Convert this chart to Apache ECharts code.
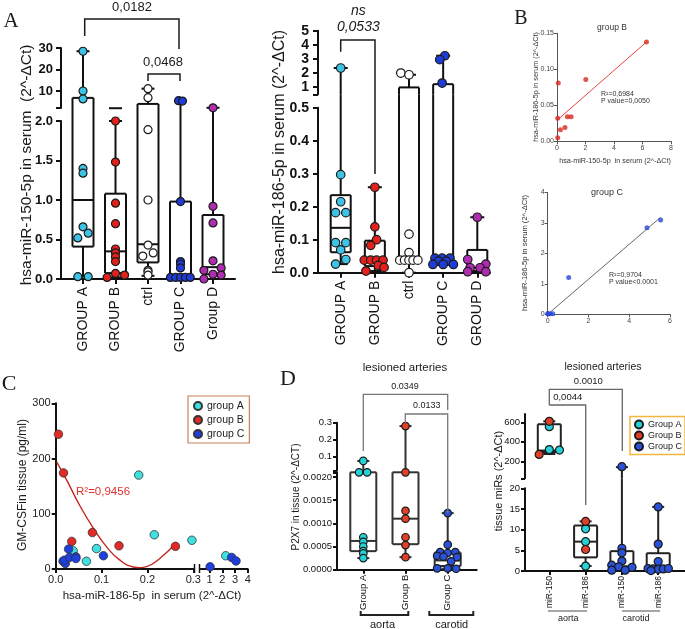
<!DOCTYPE html>
<html>
<head>
<meta charset="utf-8">
<script src="https://cdn.jsdelivr.net/npm/echarts@6/dist/echarts.min.js"></script>
<style>
  html, body { margin: 0; padding: 0; background: #fff; }
  #main { width: 685px; height: 629px; }
</style>
</head>
<body>
<div id="main"></div>
<script>
// ---------- data ----------
// A (left): hsa-miR-150-5p in serum, box = [min, Q1, median, Q3, max]
const a150Cats = ['GROUP A', 'GROUP B', 'ctrl', 'GROUP C', 'Group D'];
const a150Box = [
  [0.03, 0.41, 1.0, 6.8, 28.5],
  [0.02, 0.075, 0.35, 1.08, 2.0],
  [0.04, 0.21, 0.44, 4.0, 11.1],
  [0.01, 0.015, 0.02, 0.98, 5.4],
  [0.0, 0.06, 0.15, 0.81, 2.2]
];
const a150Vals = [
  [28.5, 10, 6.3, 1.40, 1.34, 0.66, 0.58, 0.52, 0.03, 0.03],
  [2.0, 1.48, 0.96, 0.70, 0.38, 0.33, 0.28, 0.22, 0.07, 0.05, 0.02],
  [11.1, 6.9, 1.89, 1.0, 0.43, 0.33, 0.29, 0.11, 0.09, 0.05],
  [5.5, 5.3, 0.98, 0.22, 0.19, 0.14, 0.02, 0.02, 0.02, 0.02, 0.02],
  [2.2, 0.92, 0.71, 0.23, 0.14, 0.11, 0.06, 0.05, 0.0]
];
const a150Jit = [
  [0, 0, 0, 0, 0, 0, 0.16, -0.16, -0.16, 0.16],
  [0, 0, 0, 0, 0, 0, 0, 0, 0, 0.28, -0.26],
  [0, 0, 0, 0, 0, 0.16, -0.16, 0, 0, 0],
  [-0.06, 0.06, 0, 0, 0, 0, -0.31, -0.15, 0, 0.15, 0.3],
  [0, 0, 0, 0, 0.25, -0.28, 0, 0.25, -0.28]
];
const a150LowTicks = [0, 0.5, 1, 1.5, 2];
const a150UpTicks = [10, 20, 30];

// A (right): hsa-miR-186-5p in serum
const a186Cats = ['GROUP A', 'GROUP B', 'ctrl', 'GROUP C', 'GROUP D'];
const a186Box = [
  [0.026, 0.062, 0.136, 0.235, 2.35],
  [0.005, 0.02, 0.035, 0.097, 0.259],
  [0.0, 0.03, 0.038, 0.97, 1.87],
  [0.025, 0.025, 0.035, 1.2, 3.22],
  [0.0, 0.005, 0.015, 0.069, 0.168]
];
const a186Vals = [
  [2.35, 0.297, 0.215, 0.182, 0.182, 0.091, 0.091, 0.069, 0.04, 0.026],
  [0.259, 0.139, 0.1, 0.083, 0.038, 0.038, 0.038, 0.038, 0.022, 0.016, 0.005],
  [1.99, 1.87, 0.117, 0.061, 0.038, 0.038, 0.038, 0.038, 0.038, 0.0],
  [3.22, 2.94, 1.28, 0.044, 0.044, 0.044, 0.035, 0.035, 0.025, 0.025, 0.025],
  [0.168, 0.04, 0.026, 0.015, 0.015, 0.003, 0.003]
];
const a186Jit = [
  [0, 0, 0, -0.15, 0.15, -0.15, 0.15, 0, 0.15, -0.15],
  [0, 0, 0.05, -0.12, -0.31, -0.12, 0.05, 0.24, 0.1, 0.27, -0.26],
  [-0.24, 0, 0, 0, -0.27, -0.13, 0, 0.12, 0.26, 0],
  [0.05, -0.1, -0.03, -0.24, -0.03, 0.2, -0.14, 0.09, -0.3, 0, 0.3],
  [0, -0.28, 0.25, -0.21, 0.08, -0.28, 0.25]
];
const a186LowTicks = [0, 0.1, 0.2, 0.3, 0.4, 0.5];
const a186UpTicks = [1, 2, 3, 4, 5];

// B: miR-186 vs miR-150, group B and group C
const bGroupBX = [0.09, 2.02, 6.28, 0.05, 0.73, 0.99, 0.56, 0.24, 0.05];
const bGroupBY = [0.081, 0.086, 0.138, 0.032, 0.034, 0.034, 0.019, 0.016, 0.005];
const bGroupBFit = [[0.05, 0.03], [6.28, 0.138]];
const bGroupCX = [1.03, 4.87, 5.54, 0.03, 0.11, 0.25, 0.0];
const bGroupCY = [1.21, 2.84, 3.09, 0.01, 0.02, 0.02, 0.03];
const bGroupCFit = [[0, 0], [5.54, 3.18]];

// C: GM-CSF in tissue vs miR-186 in serum
const cGroupAX = [0.181, 0.215, 0.297, 0.038, 0.089, 0.067, 2.27];
const cGroupAY = [170, 62, 52, 33, 37, 14, 24];
const cGroupBX = [0.006, 0.017, 0.035, 0.080, 0.138, 0.261];
const cGroupBY = [244, 174, 50, 66, 42, 41];
const cGroupCX = [0.016, 0.021, 0.019, 0.028, 0.030, 0.044, 0.044, 0.104, 1.04, 2.74, 3.08];
const cGroupCY = [14, 10, 16, 36, 21, 22, 19, 24, 4, 21, 14.5];
const cFitX = [0.002, 0.024, 0.053, 0.082, 0.111, 0.140, 0.169, 0.183, 0.198, 0.227, 0.263];
const cFitY = [194, 161, 114, 74, 40, 16, 3.6, 2.4, 4.2, 19, 48];

// D (left): P2X7 in tissue
const dP2x7Cats = ['Group A', 'Group B', 'Group C'];
const dP2x7Box = [
  [0.00025, 0.0004, 0.00062, 0.0021, 0.075],
  [0.00027, 0.00055, 0.0011, 0.0021, 0.28],
  [0.00002, 0.00008, 0.0002, 0.00037, 0.00122]
];
const dP2x7Vals = [
  [0.075, 0.0021, 0.0021, 0.0007, 0.0006, 0.0005, 0.0004, 0.00035, 0.00025],
  [0.28, 0.0021, 0.00127, 0.0011, 0.0007, 0.00053, 0.00027],
  [0.00122, 0.00054, 0.00038, 0.00038, 0.00036, 0.0003, 0.00028, 0.00027, 0.00018, 0.00003, 0.00003, 0.00002]
];
const dP2x7Jit = [
  [0, -0.1, 0.09, 0, 0, 0, 0, 0, 0],
  [0, 0, 0, 0, 0, 0, 0],
  [0, 0, -0.18, 0.18, 0, -0.25, -0.1, 0.22, 0.08, -0.25, 0, 0.2]
];
const dP2x7LowTicks = [0, 0.0005, 0.001, 0.0015, 0.002];
const dP2x7UpTicks = [0.1, 0.2, 0.3];

// D (right): tissue miRs; points are [category, value, jitter]
const dMirCats = ['miR-150', 'miR-186', 'miR-150', 'miR-186'];
const dMirBox = [
  [275, 295, 310, 580, 610],
  [1.2, 3.3, 7.1, 11, 12],
  [0.2, 0.9, 1.1, 4.8, 140],
  [0.1, 0.2, 0.4, 4.3, 15.5]
];
const dMirGroupA = [[0, 555, 0], [0, 320, 0], [0, 315, 0.28], [1, 10.2, 0], [1, 7.1, 0], [1, 1.2, 0]];
const dMirGroupB = [[0, 610, 0], [0, 270, -0.28], [1, 12, 0], [1, 5.2, 0]];
const dMirGroupC = [
  [2, 145, 0], [2, 5.5, 0], [2, 4.4, 0], [2, 2.4, 0], [2, 1.4, -0.28], [2, 1.0, -0.09],
  [2, 0.9, 0.28], [2, 0.2, -0.28], [2, 0.2, 0.09],
  [3, 15.5, 0], [3, 6.5, 0], [3, 2.3, 0], [3, 0.6, -0.28], [3, 0.5, -0.14], [3, 0.4, 0],
  [3, 0.5, 0.14], [3, 0.6, 0.28], [3, 0.1, -0.2]
];
const dMirLowTicks = [0, 5, 10, 15, 20];
const dMirUpTicks = [200, 400, 600];

// ---------- styles ----------
const FONT = '"Liberation Sans", Arial, Helvetica, sans-serif';
const SERIF = '"Liberation Serif", "Times New Roman", serif';
const aColors = ['#3cc3e6', '#e3211c', '#ffffff', '#1f3cd6', '#b02cb0'];
const cColors = ['#3ee0e0', '#e22a26', '#1f3fe0'];
const dColors = ['#24d2d8', '#e0402a', '#2a52d8'];

const grids = [], xAxes = [], yAxes = [], series = [], graphics = [];

function boxRenderer(c, ext) {
  return function (params, api) {
    const cs = params.coordSys;
    const top = cs.y - ext, bot = cs.y + cs.height;
    const i = api.value(0);
    const cx = api.coord([i, 0])[0];
    const ys = [1, 2, 3, 4, 5].map(d => api.coord([i, api.value(d)])[1]);
    const [ymin, yq1, ymed, yq3, ymax] = ys;
    const cl = y => Math.max(top, Math.min(bot, y));
    const inside = y => y >= top - 0.5 && y <= bot + 0.5;
    const hw = c.boxW / 2, cw = c.capW / 2;
    const style = { stroke: c.boxColor || '#111', lineWidth: c.boxLW || 2, fill: null };
    const kids = [];
    const seg = (x1, y1, x2, y2) => kids.push({ type: 'line', shape: { x1, y1, x2, y2 }, style });
    const vseg = (x, a, b) => { a = cl(a); b = cl(b); if (Math.abs(a - b) > 0.2) seg(x, a, x, b); };
    vseg(cx, ymin, yq1);
    vseg(cx, yq3, ymax);
    vseg(cx - hw, yq1, yq3);
    vseg(cx + hw, yq1, yq3);
    [yq1, yq3, ymed].forEach(y => { if (inside(y)) seg(cx - hw, y, cx + hw, y); });
    [ymin, ymax].forEach(y => { if (inside(y)) seg(cx - cw, y, cx + cw, y); });
    return { type: 'group', children: kids };
  };
}

// box plot with dot overlay, optionally split in two y segments (broken axis)
function boxPanel(c) {
  const xmin = (c.xl - c.x0) / c.step, xmax = (c.xr - c.x0) / c.step;
  const catIdx = c.cats.map((_, i) => i);
  const segs = c.up ? [c.low, c.up] : [c.low];
  const line = { color: '#111', width: c.axisW || 2 };
  segs.forEach((s, k) => {
    const gi = grids.length, isLow = k === 0;
    grids.push({ left: c.xl, top: s.t, width: c.xr - c.xl, height: s.b - s.t, outerBoundsMode: 'none' });
    xAxes.push({
      type: 'value', gridIndex: gi, min: xmin, max: xmax, show: isLow,
      axisLine: { show: true, onZero: false, lineStyle: line },
      axisTick: { show: true, customValues: catIdx, length: c.tickLen, lineStyle: line },
      axisLabel: {
        show: true, customValues: catIdx, rotate: 90, margin: c.catMargin,
        formatter: v => c.cats[Math.round(v)], fontSize: c.catFont, color: '#111', fontFamily: FONT
      },
      splitLine: { show: false }
    });
    yAxes.push({
      type: 'value', gridIndex: gi, min: s.min, max: s.max,
      axisLine: { show: true, onZero: false, lineStyle: line },
      axisTick: { show: true, customValues: s.ticks, length: c.tickLen, lineStyle: line },
      axisLabel: {
        show: true, customValues: s.labels, formatter: s.fmt, margin: c.tickMargin,
        fontSize: c.tickFont, fontWeight: c.tickWeight, color: '#111', fontFamily: FONT
      },
      splitLine: { show: false }
    });
    const ext = (isLow && c.up) ? s.t - c.up.b : 0;
    series.push({
      type: 'custom', xAxisIndex: gi, yAxisIndex: gi, clip: false, silent: true, z: 2,
      renderItem: boxRenderer(c, ext),
      data: c.boxes.map((b, i) => [i].concat(b))
    });
    c.sets.forEach(set => {
      const pts = set.pts
        .filter(p => !c.up || (isLow ? p[1] <= c.low.max : p[1] > c.low.max))
        .map(p => [p[0] + p[2], p[1]]);
      if (!pts.length) return;
      series.push({
        type: 'scatter', name: set.name, xAxisIndex: gi, yAxisIndex: gi, data: pts,
        symbol: 'circle', symbolSize: c.sym, clip: false, silent: true, z: 3,
        itemStyle: { color: set.color, borderColor: '#1a1a1a', borderWidth: c.symBorder || 1.2, opacity: 1 }
      });
    });
  });
}

function perCategory(vals, jits, names, colors) {
  return vals.map((vs, k) => ({
    name: names[k], color: colors[k], pts: vs.map((v, j) => [k, v, jits[k][j]])
  }));
}

function plainAxis(gi, min, max, o, st) {
  return {
    type: 'value', gridIndex: gi, min, max, show: o.show !== false,
    axisLine: { show: true, onZero: false, lineStyle: st.line },
    axisTick: { show: true, length: st.tick, lineStyle: st.line, customValues: o.ticks },
    axisLabel: { fontSize: st.font, color: st.color, fontFamily: FONT, margin: st.margin, customValues: o.ticks, formatter: o.fmt },
    splitLine: { show: false }
  };
}

function text(x, y, s, size, o) {
  o = o || {};
  graphics.push({
    type: 'text', x, y, rotation: o.rot || 0, silent: true, z: 20,
    style: {
      text: s, fontSize: size, fontFamily: o.family || FONT, fontWeight: o.weight || 'normal',
      fontStyle: o.italic ? 'italic' : 'normal', fill: o.color || '#1a1a1a',
      align: o.align || 'center', verticalAlign: 'middle'
    }
  });
}
function path(points, color, width) {
  graphics.push({
    type: 'polyline', silent: true, z: 20, shape: { points },
    style: { stroke: color || '#1a1a1a', lineWidth: width || 1.5, fill: null }
  });
}

// ---------- panel A ----------
boxPanel({
  cats: a150Cats, boxes: a150Box,
  sets: perCategory(a150Vals, a150Jit, a150Cats, aColors),
  xl: 61, xr: 235, x0: 83, step: 32.5,
  low: { t: 121, b: 279, min: 0, max: 2, ticks: a150LowTicks, labels: a150LowTicks, fmt: v => v.toFixed(1) },
  up: { t: 48, b: 108, min: 2.1, max: 30, ticks: [2.1].concat(a150UpTicks), labels: a150UpTicks, fmt: v => String(v) },
  boxW: 21, capW: 13, sym: 8, tickLen: 5, tickMargin: 8, tickFont: 13, tickWeight: 'bold',
  catFont: 14, catMargin: 8
});
boxPanel({
  cats: a186Cats, boxes: a186Box,
  sets: perCategory(a186Vals, a186Jit, a186Cats, aColors),
  xl: 318, xr: 490, x0: 340.7, step: 34.15,
  low: { t: 107.7, b: 272.7, min: 0, max: 0.5, ticks: a186LowTicks, labels: a186LowTicks, fmt: v => v.toFixed(1) },
  up: { t: 30.7, b: 94.3, min: 0.48, max: 5, ticks: [0.48].concat(a186UpTicks), labels: a186UpTicks, fmt: v => String(v) },
  boxW: 20, capW: 14, sym: 8.5, tickLen: 5, tickMargin: 9, tickFont: 14, tickWeight: 'bold',
  catFont: 14, catMargin: 8
});
text(11, 21, 'A', 21, { family: SERIF });
text(27, 165, 'hsa-miR-150-5p in serum  (2^-\u0394Ct)', 15.5, { rot: Math.PI / 2 });
text(280, 152, 'hsa-miR-186-5p in serum (2^-\u0394Ct)', 16, { rot: Math.PI / 2 });
path([[84.7, 36], [84.7, 19], [179, 19], [179, 49]]);
text(132, 7, '0,0182', 13);
path([[148, 81], [148, 74], [180, 74], [180, 81]]);
text(163, 62, '0,0468', 13);
path([[340.7, 51.7], [340.7, 40], [375, 40], [375, 174]]);
text(358.3, 11, 'ns', 14, { italic: true });
text(358.3, 27, '0,0533', 14, { italic: true });

// ---------- panel B ----------
const bSt = { line: { color: '#555', width: 1 }, tick: 3, font: 7, color: '#444', margin: 3 };
let g = grids.length;
grids.push({ left: 557, top: 33.3, width: 114, height: 108, outerBoundsMode: 'none' });
xAxes.push(plainAxis(g, 0, 8, { ticks: [0, 2, 4, 6, 8] }, bSt));
yAxes.push(plainAxis(g, 0, 0.15, { ticks: [0, 0.05, 0.1, 0.15], fmt: v => v.toFixed(2) }, bSt));
series.push({
  type: 'scatter', xAxisIndex: g, yAxisIndex: g, symbolSize: 5, silent: true, z: 3,
  itemStyle: { color: '#d9281f' }, data: bGroupBX.map((x, i) => [x, bGroupBY[i]])
});
series.push({
  type: 'line', xAxisIndex: g, yAxisIndex: g, data: bGroupBFit, symbol: 'none', silent: true,
  lineStyle: { color: '#e5463f', width: 1 }, z: 2
});
g = grids.length;
grids.push({ left: 547.7, top: 192.3, width: 122.3, height: 122, outerBoundsMode: 'none' });
xAxes.push(plainAxis(g, 0, 6, { ticks: [0, 2, 4, 6] }, bSt));
yAxes.push(plainAxis(g, 0, 4, { ticks: [0, 1, 2, 3, 4] }, bSt));
series.push({
  type: 'scatter', xAxisIndex: g, yAxisIndex: g, symbolSize: 5, silent: true, z: 3,
  itemStyle: { color: '#2548d8' }, data: bGroupCX.map((x, i) => [x, bGroupCY[i]])
});
series.push({
  type: 'line', xAxisIndex: g, yAxisIndex: g, data: bGroupCFit, symbol: 'none', silent: true,
  lineStyle: { color: '#666', width: 1 }, z: 2
});
text(521, 19, 'B', 20, { family: SERIF });
text(612, 28, 'group B', 8.5, { color: '#333' });
text(607, 193, 'group C', 9, { color: '#333' });
text(536, 87, 'hsa-miR-186-5p in serum (2^-\u0394Ct)', 7.2, { rot: Math.PI / 2, color: '#333' });
text(615, 161, 'hsa-miR-150-5p  in serum (2^-\u0394Ct)', 7.2, { color: '#333' });
text(525, 253, 'hsa-miR-186-5p in serum (2^-\u0394Ct)', 7.6, { rot: Math.PI / 2, color: '#333' });
text(601, 94, 'R\u00b2=0,6984', 7, { align: 'left', color: '#333' });
text(601, 101.5, 'P value=0,0050', 7, { align: 'left', color: '#333' });
text(609, 275, 'R\u00b2=0,9704', 7, { align: 'left', color: '#333' });
text(609, 282.5, 'P value<0.0001', 7, { align: 'left', color: '#333' });

// ---------- panel C ----------
const cSt = { line: { color: '#111', width: 2 }, tick: 4, font: 11, color: '#222', margin: 5 };
const gC1 = grids.length;
grids.push({ left: 55.7, top: 403.3, width: 137.6, height: 165.7, outerBoundsMode: 'none' });
xAxes.push(plainAxis(gC1, 0, 0.3, { ticks: [0, 0.1, 0.2, 0.3], fmt: v => v.toFixed(1) }, cSt));
yAxes.push(plainAxis(gC1, 0, 300, { ticks: [0, 100, 200, 300] }, cSt));
const gC2 = grids.length;
grids.push({ left: 200.7, top: 403.3, width: 47, height: 165.7, outerBoundsMode: 'none' });
xAxes.push(plainAxis(gC2, 0.3, 4, { ticks: [1, 2, 3, 4] }, cSt));
yAxes.push(plainAxis(gC2, 0, 300, { show: false }, cSt));
[['group A', cGroupAX, cGroupAY], ['group B', cGroupBX, cGroupBY], ['group C', cGroupCX, cGroupCY]]
  .forEach(([name, xs, ys], k) => {
    [gC1, gC2].forEach((gi, part) => {
      const pts = xs.map((x, i) => [x, ys[i]]).filter(p => part === 0 ? p[0] <= 0.3 : p[0] > 0.3);
      series.push({
        type: 'scatter', name, xAxisIndex: gi, yAxisIndex: gi, data: pts, symbolSize: 8.5,
        silent: true, clip: false, z: 3,
        itemStyle: { color: cColors[k], borderColor: '#333', borderWidth: 0.8, opacity: 1 }
      });
    });
  });
series.push({
  type: 'line', xAxisIndex: gC1, yAxisIndex: gC1, smooth: 0.5, symbol: 'none', silent: true, z: 2,
  lineStyle: { color: '#c4261f', width: 1.4 }, data: cFitX.map((x, i) => [x, cFitY[i]])
});
path([[194.5, 564], [194.5, 573]], '#111', 1.5);
path([[199.5, 564], [199.5, 573]], '#111', 1.5);
text(9, 384, 'C', 22, { family: SERIF });
text(23, 485, 'GM-CSFin tissue (pg/ml)', 12, { rot: Math.PI / 2 });
text(152, 596, 'hsa-miR-186-5p  in serum (2^-\u0394Ct)', 11.5);
text(76, 492, 'R\u00b2=0,9456', 11.5, { align: 'left', color: '#e3312d' });

// ---------- panel D ----------
boxPanel({
  cats: dP2x7Cats, boxes: dP2x7Box,
  sets: perCategory(dP2x7Vals, dP2x7Jit, dP2x7Cats, dColors),
  xl: 337, xr: 476.7, x0: 363.3, step: 42.2,
  low: { t: 472.3, b: 569.7, min: 0, max: 0.0021, ticks: dP2x7LowTicks.concat([0.0021]), labels: dP2x7LowTicks, fmt: v => v.toFixed(4) },
  up: { t: 422.7, b: 470.3, min: 0.02, max: 0.3, ticks: [0.02].concat(dP2x7UpTicks), labels: dP2x7UpTicks, fmt: v => v.toFixed(1) },
  boxW: 26, capW: 12, sym: 7.5, boxColor: '#333', tickLen: 4, tickMargin: 5, tickFont: 9.5, tickWeight: 'normal',
  catFont: 9.5, catMargin: 5
});
boxPanel({
  cats: dMirCats, boxes: dMirBox,
  sets: [
    { name: 'Group A', color: dColors[0], pts: dMirGroupA },
    { name: 'Group B', color: dColors[1], pts: dMirGroupB },
    { name: 'Group C', color: dColors[2], pts: dMirGroupC }
  ],
  xl: 525, xr: 685, x0: 549.3, step: 36.3,
  low: { t: 488.3, b: 571, min: 0, max: 20, ticks: dMirLowTicks, labels: dMirLowTicks, fmt: v => String(v) },
  up: { t: 414, b: 478.3, min: 25.6, max: 685, ticks: [25.6].concat(dMirUpTicks), labels: dMirUpTicks, fmt: v => String(v) },
  boxW: 23, capW: 12, sym: 8, boxColor: '#222', tickLen: 4, tickMargin: 5, tickFont: 9.5, tickWeight: 'normal',
  catFont: 8.5, catMargin: 5
});
text(288, 379, 'D', 22, { family: SERIF });
text(405, 368, 'lesioned arteries', 11.5);
text(603, 367, 'lesioned arteries', 10.5);
text(296, 497, 'P2X7 in tissue (2^-\u0394CT)', 10, { rot: Math.PI / 2 });
text(499, 481, 'tissue miRs (2^-\u0394Ct)', 11, { rot: Math.PI / 2 });
path([[363.3, 451], [363.3, 394.3], [447.7, 394.3], [447.7, 410]], '#777', 1.3);
text(405, 387, '0.0349', 9);
path([[405.3, 423], [405.3, 414], [447.7, 414], [447.7, 513]], '#777', 1.3);
text(426.7, 406, '0.0133', 9);
path([[549.3, 405], [549.3, 389.3], [622.3, 389.3], [622.3, 451]], '#666', 1.3);
text(588.3, 381.7, '0.0010', 9.5);
path([[549.3, 405], [585.7, 405], [585.7, 505]], '#666', 1.3);
text(567.7, 397.3, '0,0044', 9.5);
path([[360.7, 611], [360.7, 615], [408.3, 615], [408.3, 611]], '#222', 2);
path([[429.3, 611], [429.3, 615], [473.3, 615], [473.3, 611]], '#222', 2);
text(382.5, 625, 'aorta', 11);
text(451.7, 625, 'carotid', 11);
path([[548, 611], [587, 611]], '#888', 1.5);
path([[622, 611], [660, 611]], '#888', 1.5);
text(568.3, 618.5, 'aorta', 9);
text(636, 618.5, 'carotid', 9);

const legends = [
  {
    left: 188, top: 396, orient: 'vertical', selectedMode: false, icon: 'circle',
    data: ['group A', 'group B', 'group C'],
    borderColor: '#c8825a', borderWidth: 1.2, padding: [4, 5, 3, 5],
    itemWidth: 8, itemHeight: 8, itemGap: 2,
    textStyle: { fontSize: 10.5, color: '#222', fontFamily: FONT, lineHeight: 12 }
  },
  {
    left: 630, top: 416.5, orient: 'vertical', selectedMode: false, icon: 'circle',
    data: ['Group A', 'Group B', 'Group C'],
    borderColor: '#f5b63e', borderWidth: 1.5, padding: [3, 3, 3, 4],
    itemWidth: 8, itemHeight: 8, itemGap: 1,
    textStyle: { fontSize: 9, color: '#222', fontFamily: FONT, lineHeight: 10 }
  }
];

const chart = echarts.init(document.getElementById('main'));
chart.setOption({
  animation: false,
  backgroundColor: '#ffffff',
  grid: grids,
  xAxis: xAxes,
  yAxis: yAxes,
  legend: legends,
  series: series,
  graphic: graphics
});
window.addEventListener('resize', () => chart.resize());
</script>
</body>
</html>
